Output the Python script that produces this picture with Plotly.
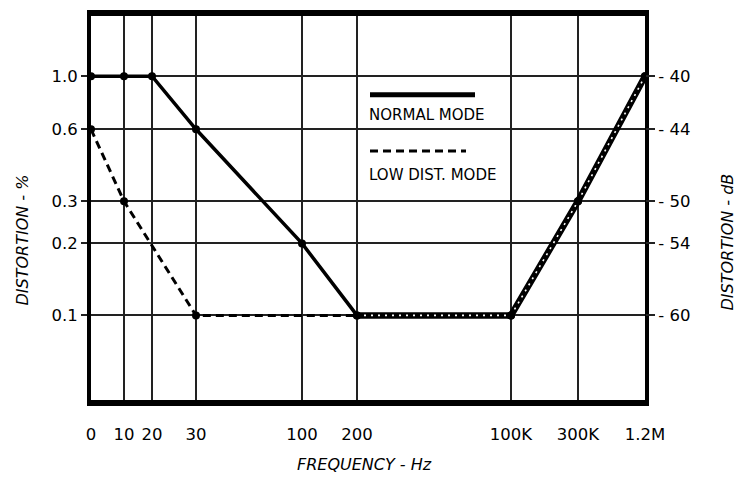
import plotly.graph_objects as go

# Frequency axis (schematic, non-uniform): labels and their place on the axis scale
freq_labels = ["0", "10", "20", "30", "100", "200", "100K", "300K", "1.2M"]
freq_axis_scale = [0, 33, 61, 105, 211, 266, 420, 487, 554]

# Distortion (%) ticks and matching dB labels
dist_ticks = [1.0, 0.6, 0.3, 0.2, 0.1]
db_labels = ["- 40", "- 44", "- 50", "- 54", "- 60"]

# Series
normal_freq = ["0", "10", "20", "30", "100", "200", "100K", "300K", "1.2M"]
normal_dist = [1.0, 1.0, 1.0, 0.6, 0.2, 0.1, 0.1, 0.3, 1.0]
lowdist_freq = ["0", "10", "30", "200", "100K", "300K", "1.2M"]
lowdist_dist = [0.6, 0.3, 0.1, 0.1, 0.1, 0.3, 1.0]

pos = dict(zip(freq_labels, freq_axis_scale))
nx = [pos[f] for f in normal_freq]
lx = [pos[f] for f in lowdist_freq]

# shared part (both modes identical)
ndict = dict(zip(normal_freq, normal_dist))
shared_f = [f for f, d in zip(lowdist_freq, lowdist_dist) if ndict.get(f) == d]
sx = [pos[f] for f in shared_f]
sy = [ndict[f] for f in shared_f]

FONT = "DejaVu Sans, Liberation Sans, sans-serif"
W, H = 738, 479
L, R, T, B = 91, 93, 10, 79
PW, PH = W - L - R, H - T - B

def px(xpix):  # page pixel -> paper x
    return (xpix - L) / PW

def py(ypix):  # page pixel -> paper y
    return (H - B - ypix) / PH

fig = go.Figure()

fig.add_trace(go.Scatter(x=lx, y=lowdist_dist, mode="lines",
                         line=dict(color="black", width=3, dash="8px,5px"),
                         showlegend=False, hoverinfo="skip"))
fig.add_trace(go.Scatter(x=nx, y=normal_dist, mode="lines",
                         line=dict(color="black", width=3.5),
                         showlegend=False))
fig.add_trace(go.Scatter(x=sx, y=sy, mode="lines",
                         line=dict(color="black", width=6.5),
                         showlegend=False))
fig.add_trace(go.Scatter(x=sx, y=sy, mode="lines",
                         line=dict(color="white", width=1.6, dash="2px,5px"),
                         showlegend=False))
fig.add_trace(go.Scatter(x=nx, y=normal_dist, mode="markers",
                         marker=dict(symbol="circle", size=8, color="black"),
                         showlegend=False))
fig.add_trace(go.Scatter(x=lx, y=lowdist_dist, mode="markers",
                         marker=dict(symbol="circle", size=8, color="black"),
                         showlegend=False))
# dummy for right axis
fig.add_trace(go.Scatter(x=[nx[0]], y=[normal_dist[0]], yaxis="y2", mode="markers",
                         marker=dict(opacity=0), showlegend=False, hoverinfo="skip"))

yr = [-1.3535, 0.2515]
fig.update_layout(
    width=W, height=H,
    margin=dict(l=L, r=R, t=T, b=B),
    plot_bgcolor="white", paper_bgcolor="white",
    font=dict(family=FONT, size=16.5, color="#000"),
    xaxis=dict(range=[0, 554], tickvals=freq_axis_scale, ticktext=freq_labels,
               showgrid=True, gridcolor="#222", gridwidth=1.6,
               showline=True, linecolor="black", linewidth=6, mirror=True,
               ticks="outside", ticklen=14, tickcolor="rgba(0,0,0,0)", zeroline=False),
    yaxis=dict(type="log", range=yr, tickvals=dist_ticks,
               ticktext=["%.1f" % v for v in dist_ticks],
               showgrid=True, gridcolor="#222", gridwidth=1.6,
               showline=True, linecolor="black", linewidth=4, mirror=True,
               ticks="outside", ticklen=6, tickwidth=1.5, tickcolor="#222",
               zeroline=False),
    yaxis2=dict(type="log", range=yr, overlaying="y", side="right",
                tickvals=dist_ticks, ticktext=db_labels, showgrid=False,
                ticks="outside", ticklen=9, tickwidth=1.5, tickcolor="#222",
                showline=False, zeroline=False),
)

# Axis titles
fig.add_annotation(xref="paper", yref="paper", x=px(22), y=py(238), text="<i>DISTORTION - %</i>",
                   textangle=-90, showarrow=False, xanchor="center", yanchor="middle",
                   font=dict(size=16))
fig.add_annotation(xref="paper", yref="paper", x=px(727), y=py(240), text="<i>DISTORTION - dB</i>",
                   textangle=-90, showarrow=False, xanchor="center", yanchor="middle",
                   font=dict(size=16))
fig.add_annotation(xref="paper", yref="paper", x=px(364), y=py(466), text="<i>FREQUENCY - Hz</i>",
                   showarrow=False, xanchor="center", yanchor="middle", font=dict(size=16))

# Legend drawn inside plot
fig.add_shape(type="line", xref="paper", yref="paper", x0=px(370), x1=px(475),
              y0=py(90), y1=py(90), line=dict(color="black", width=5))
fig.add_annotation(xref="paper", yref="paper", x=px(367), y=py(111),
                   text="NORMAL MODE", showarrow=False, xanchor="left", yanchor="middle",
                   font=dict(size=15))
fig.add_shape(type="line", xref="paper", yref="paper", x0=px(370), x1=px(466),
              y0=py(147), y1=py(147),
              line=dict(color="black", width=3, dash="8px,5px"))
fig.add_annotation(xref="paper", yref="paper", x=px(367), y=py(171),
                   text="LOW DIST. MODE", showarrow=False, xanchor="left", yanchor="middle",
                   font=dict(size=15))

fig.write_html("out.html", config={"displayModeBar": False},
               post_script="document.body.style.margin='0';document.body.style.overflow='hidden';")
